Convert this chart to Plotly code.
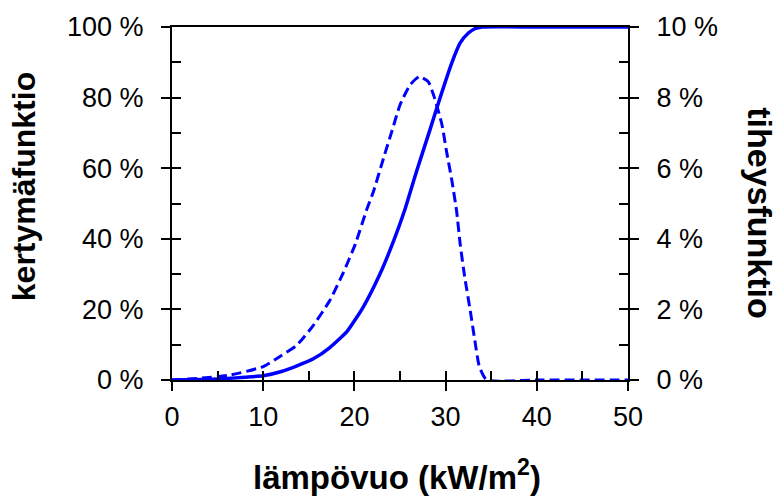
import plotly.graph_objects as go

# Cumulative distribution (left axis, %)
cdf_x = [0, 5, 8, 10, 12, 13.7, 15.5, 17.3, 19.2, 21.0, 22.8, 24.3, 25.5, 26.8, 28.3, 29.4, 30.7, 31.6, 32.5, 33.2, 34, 40, 50]
cdf_y = [0, 0.3, 0.8, 1.2, 2.4, 4.0, 6.0, 9.2, 13.8, 20.8, 30.0, 39.4, 48, 59, 71, 80, 90, 95.5, 98.3, 99.5, 100, 100, 100]

# Density function (right axis, %)
pdf_x = [0, 3, 6.4, 10, 11.8, 13.7, 15.5, 17.3, 18.8, 20.1, 21.3, 22.1, 23.2, 24.1, 25, 26.1, 27.1, 28.1, 28.8, 29.6, 30.1, 30.7, 31.2, 31.6, 32.1, 32.7, 33.2, 33.7, 34.5, 40, 50]
pdf_y = [0, 0.05, 0.14, 0.38, 0.66, 0.99, 1.55, 2.25, 3.05, 3.85, 4.79, 5.35, 6.29, 7.04, 7.79, 8.36, 8.59, 8.45, 7.98, 7.23, 6.48, 5.63, 4.8, 3.85, 2.91, 1.97, 1.13, 0.38, 0, 0, 0]

x_ticks = [0, 10, 20, 30, 40, 50]
x_all = [0, 5, 10, 15, 20, 25, 30, 35, 40, 45, 50]
y1_ticks = [0, 20, 40, 60, 80, 100]
y1_labels = ["0 %", "20 %", "40 %", "60 %", "80 %", "100 %"]
y1_all = [0, 10, 20, 30, 40, 50, 60, 70, 80, 90, 100]
y2_ticks = [0, 2, 4, 6, 8, 10]
y2_labels = ["0 %", "2 %", "4 %", "6 %", "8 %", "10 %"]
y2_all = [0, 1, 2, 3, 4, 5, 6, 7, 8, 9, 10]

x_title = "lämpövuo (kW/m<sup>2</sup>)"
y1_title = "kertymäfunktio"
y2_title = "tiheysfunktio"

BLUE = "#0000FF"
FONT = "Liberation Sans, Arial, sans-serif"

fig = go.Figure()
fig.add_trace(go.Scatter(x=pdf_x, y=pdf_y, mode="lines", xaxis="x", yaxis="y2",
                         line=dict(color=BLUE, width=3, dash="10px,5px", shape="spline", smoothing=0.5),
                         showlegend=False))
fig.add_trace(go.Scatter(x=cdf_x, y=cdf_y, mode="lines", xaxis="x", yaxis="y",
                         line=dict(color=BLUE, width=3.5, shape="spline", smoothing=0.5),
                         showlegend=False))
# empty traces to host the inner tick axes
fig.add_trace(go.Scatter(x=[None], y=[None], xaxis="x2", yaxis="y3", showlegend=False, hoverinfo="skip"))
fig.add_trace(go.Scatter(x=[None], y=[None], xaxis="x2", yaxis="y4", showlegend=False, hoverinfo="skip"))

tickfont = dict(family=FONT, size=27, color="black")

outer = dict(showgrid=False, zeroline=False, showline=True, linecolor="black", linewidth=2,
             ticks="outside", ticklen=9, tickwidth=2, tickcolor="black", tickfont=tickfont)
inner = dict(showgrid=False, zeroline=False, showline=False, ticks="inside", ticklen=9,
             tickwidth=2, tickcolor="black", showticklabels=False)

fig.update_layout(
    width=780, height=497,
    margin=dict(l=172, r=152, t=25, b=117),
    paper_bgcolor="white", plot_bgcolor="white",
    xaxis=dict(range=[0, 50], tickvals=x_ticks, mirror=True, ticklabelstandoff=3, **outer),
    yaxis=dict(range=[0, 100], tickvals=y1_ticks, ticktext=y1_labels, ticklabelstandoff=12, **outer),
    yaxis2=dict(range=[0, 10], tickvals=y2_ticks, ticktext=y2_labels, overlaying="y", side="right",
                ticklabelstandoff=12, **outer),
    xaxis2=dict(range=[0, 50], tickvals=x_all, overlaying="x", side="bottom", anchor="y3", **inner),
    yaxis3=dict(range=[0, 100], tickvals=y1_all, overlaying="y", side="left", anchor="x2", **inner),
    yaxis4=dict(range=[0, 10], tickvals=y2_all, overlaying="y", side="right", anchor="x2", **inner),
    annotations=[
        dict(text=x_title, xref="paper", yref="paper", x=0.493, y=-0.27, showarrow=False,
             xanchor="center", yanchor="middle",
             font=dict(family=FONT, size=33, color="black", weight="bold")),
        dict(text=y1_title, xref="paper", yref="paper", x=-0.3246, y=0.549, showarrow=False,
             xanchor="center", yanchor="middle", textangle=-90,
             font=dict(family=FONT, size=32, color="black", weight="bold")),
        dict(text=y2_title, xref="paper", yref="paper", x=1.289, y=0.473, showarrow=False,
             xanchor="center", yanchor="middle", textangle=90,
             font=dict(family=FONT, size=34, color="black", weight="bold")),
    ],
)

fig.write_html("out.html")
